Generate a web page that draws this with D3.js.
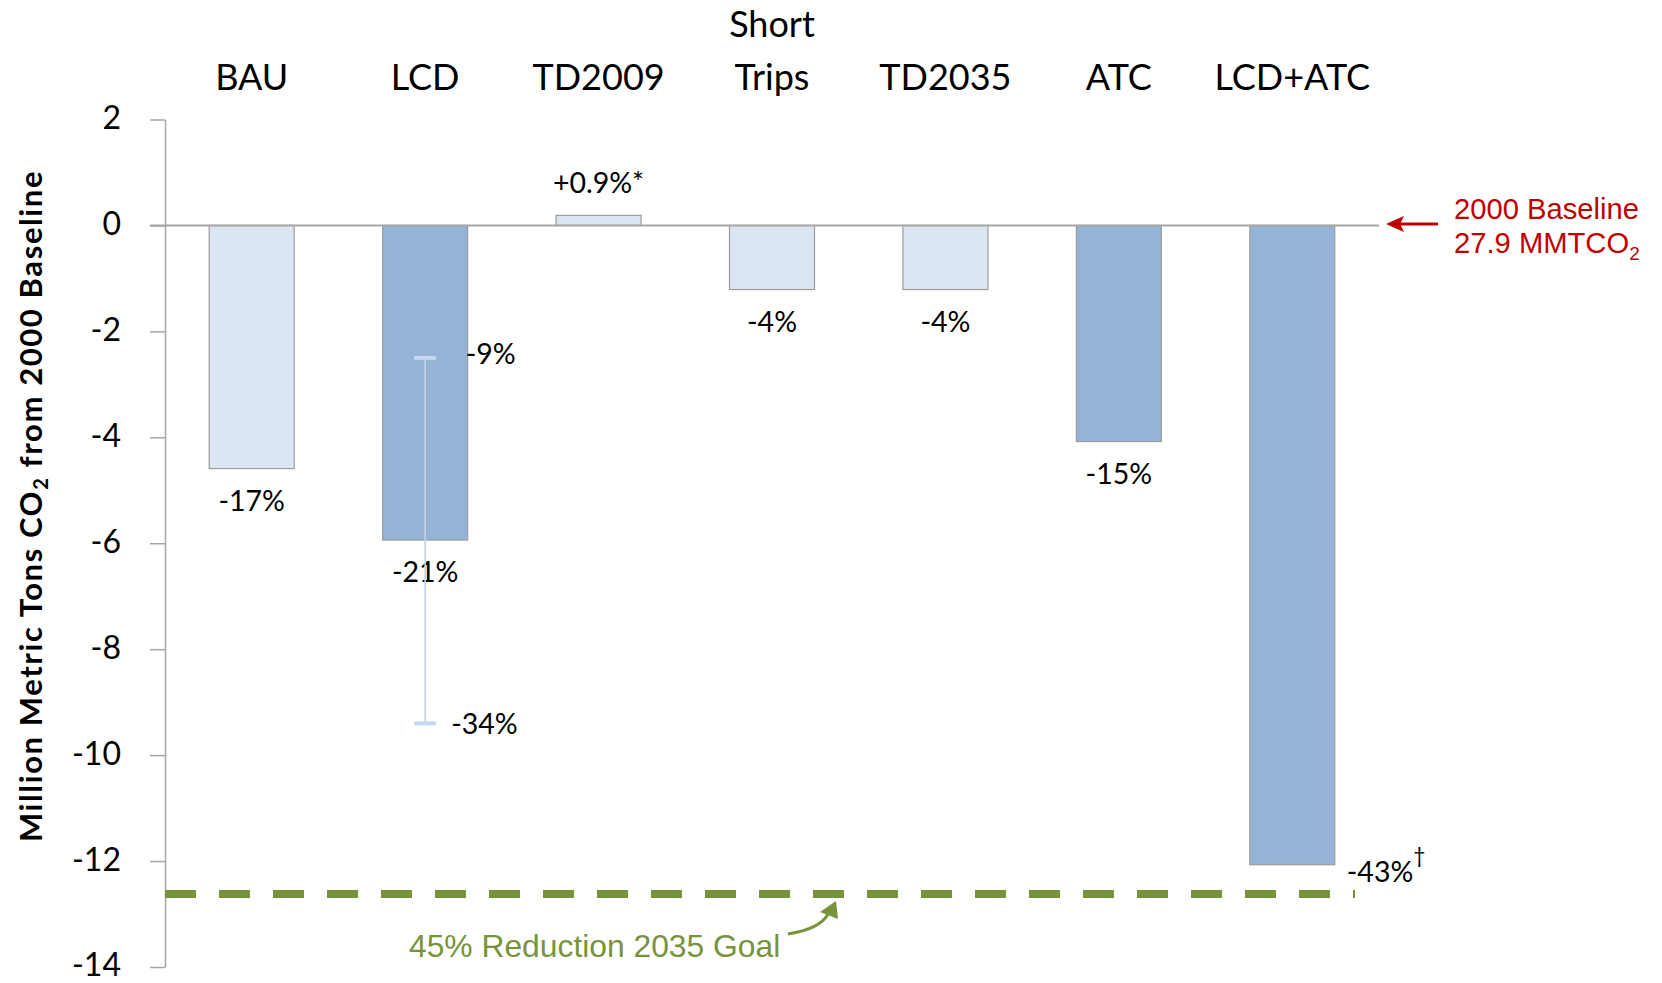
<!DOCTYPE html>
<html>
<head>
<meta charset="utf-8">
<script src="https://cdn.jsdelivr.net/npm/d3@7"></script>
<style>
  html, body { margin: 0; padding: 0; background: #fff; }
  svg { display: block; }
</style>
</head>
<body>
<svg id="chart" width="1662" height="983"></svg>
<script>
// Change in CO2 emissions by scenario, million metric tons relative to the 2000 baseline
const categories = ["BAU", "LCD", "TD2009", "Short Trips", "TD2035", "ATC", "LCD+ATC"];
const values = [-4.59, -5.94, 0.19, -1.21, -1.21, -4.08, -12.07];
const pctLabels = ["-17%", "-21%", "+0.9%*", "-4%", "-4%", "-15%", "-43%"];
const highlighted = [false, true, false, false, false, true, true];

// LCD range of outcomes
const lcdRange = { category: "LCD", high: -2.5, low: -9.4, highLabel: "-9%", lowLabel: "-34%" };

// 45% reduction goal for 2035 relative to 27.9 MMTCO2 baseline
const baseline = 27.9;
const goalValue = -12.62;

const yTicks = [2, 0, -2, -4, -6, -8, -10, -12, -14];

const svg = d3.select("#chart");
const plotLeft = 165, plotRight = 1379, plotTop = 119.5, plotBottom = 967;

const x = d3.scaleBand()
  .domain(categories)
  .range([plotLeft, plotRight])
  .paddingInner(0.51)
  .paddingOuter(0.255);

const y = d3.scaleLinear().domain([-14, 2]).range([plotBottom, plotTop]);

const labelFont = "Lato, 'Open Sans', sans-serif";

// y axis
const yAxis = d3.axisLeft(y)
  .tickValues(yTicks)
  .tickSize(15)
  .tickSizeOuter(0)
  .tickPadding(29)
  .tickFormat(d => d === 0 ? "0" : String(d));

const ga = svg.append("g").attr("transform", `translate(${plotLeft},0)`).call(yAxis);
ga.select(".domain").attr("stroke", "#a6a6a6").attr("stroke-width", 1.5);
ga.selectAll(".tick line").attr("stroke", "#a6a6a6").attr("stroke-width", 1.5);
ga.selectAll(".tick text")
  .attr("fill", "#000")
  .attr("dy", "0.28em")
  .style("font-family", labelFont)
  .style("font-size", "32px");

// bars
svg.append("g").selectAll("rect")
  .data(categories)
  .join("rect")
  .attr("x", d => x(d))
  .attr("width", x.bandwidth())
  .attr("y", (d, i) => y(Math.max(0, values[i])))
  .attr("height", (d, i) => Math.abs(y(values[i]) - y(0)))
  .attr("fill", (d, i) => highlighted[i] ? "#95b3d7" : "#dce6f2")
  .attr("stroke", "#9c9c9c")
  .attr("stroke-width", 1.2);

// zero line
svg.append("line")
  .attr("x1", plotLeft - 15).attr("x2", plotRight)
  .attr("y1", y(0)).attr("y2", y(0))
  .attr("stroke", "#a6a6a6").attr("stroke-width", 2);

// category labels along the top
const catG = svg.append("g")
  .style("font-family", labelFont)
  .style("font-size", "36px")
  .attr("fill", "#000")
  .attr("text-anchor", "middle");
categories.forEach(c => {
  const lines = c.split(" ");
  const cx = x(c) + x.bandwidth() / 2;
  lines.forEach((ln, j) => {
    catG.append("text")
      .attr("x", cx)
      .attr("y", 90 - (lines.length - 1 - j) * 53)
      .text(ln);
  });
});

// value labels
const valG = svg.append("g")
  .style("font-family", labelFont)
  .style("font-size", "28.5px")
  .attr("fill", "#000");
categories.forEach((c, i) => {
  const v = values[i];
  const cx = x(c) + x.bandwidth() / 2;
  const last = i === categories.length - 1;
  if (last) {
    const t = valG.append("text")
      .attr("x", x(c) + x.bandwidth() + 12)
      .attr("y", y(v) + 17)
      .text(pctLabels[i]);
    t.append("tspan")
      .attr("dy", -19)
      .style("font-size", "21px")
      .text("\u2020");
  } else {
    valG.append("text")
      .attr("x", cx)
      .attr("y", v >= 0 ? y(v) - 22 : y(v) + 42)
      .attr("text-anchor", "middle")
      .text(pctLabels[i]);
  }
});

// LCD range whisker
const ex = x(lcdRange.category) + x.bandwidth() / 2;
svg.append("line")
  .attr("x1", ex).attr("x2", ex)
  .attr("y1", y(lcdRange.high)).attr("y2", y(lcdRange.low))
  .attr("stroke", "#c0d3ea").attr("stroke-width", 1.6);
[lcdRange.high, lcdRange.low].forEach(v => {
  svg.append("line")
    .attr("x1", ex - 11).attr("x2", ex + 11)
    .attr("y1", y(v)).attr("y2", y(v))
    .attr("stroke", "#c6d9f1").attr("stroke-width", 4);
});
valG.append("text")
  .attr("x", x(lcdRange.category) + x.bandwidth() - 2)
  .attr("y", y(lcdRange.high) + 6)
  .text(lcdRange.highLabel);
valG.append("text")
  .attr("x", ex + 26)
  .attr("y", y(lcdRange.low) + 11)
  .text(lcdRange.lowLabel);

// goal line
const green = "#77933c";
svg.append("line")
  .attr("x1", plotLeft).attr("x2", 1355)
  .attr("y1", y(goalValue)).attr("y2", y(goalValue))
  .attr("stroke", green)
  .attr("stroke-width", 8)
  .attr("stroke-dasharray", "31,23");

svg.append("text")
  .attr("x", 409).attr("y", 957)
  .style("font-family", "'Liberation Sans', Arial, sans-serif")
  .style("font-size", "31.8px")
  .attr("fill", green)
  .text("45% Reduction 2035 Goal");

// curved pointer to the goal line
svg.append("path")
  .attr("d", "M788,934 Q820,929 828,914")
  .attr("fill", "none")
  .attr("stroke", green)
  .attr("stroke-width", 3);
svg.append("path")
  .attr("d", "M836,901 L838,919 L820,912 Z")
  .attr("fill", green);

// baseline annotation
const red = "#c00000";
svg.append("line")
  .attr("x1", 1438).attr("x2", 1400)
  .attr("y1", 224).attr("y2", 224)
  .attr("stroke", red).attr("stroke-width", 3);
svg.append("path")
  .attr("d", "M1386,224 L1404,216 L1400,224 L1404,232 Z")
  .attr("fill", red);

const redG = svg.append("g")
  .style("font-family", "'Liberation Sans', Arial, sans-serif")
  .style("font-size", "29.2px")
  .attr("fill", red);
redG.append("text").attr("x", 1454).attr("y", 219).text("2000 Baseline");
const t2 = redG.append("text").attr("x", 1454).attr("y", 253).text(`${baseline} MMTCO`);
t2.append("tspan").attr("dy", 7).style("font-size", "19px").text("2");

// y axis title
const yt = svg.append("text")
  .attr("transform", "translate(42,506) rotate(-90)")
  .attr("text-anchor", "middle")
  .style("font-family", labelFont)
  .style("font-size", "31px")
  .style("font-weight", "bold")
  .style("letter-spacing", "1.6px")
  .attr("fill", "#000");
yt.append("tspan").text("Million Metric Tons CO");
yt.append("tspan").attr("dy", 6).style("font-size", "20px").text("2");
yt.append("tspan").attr("dy", -6).text(" from 2000 Baseline");
</script>
</body>
</html>
